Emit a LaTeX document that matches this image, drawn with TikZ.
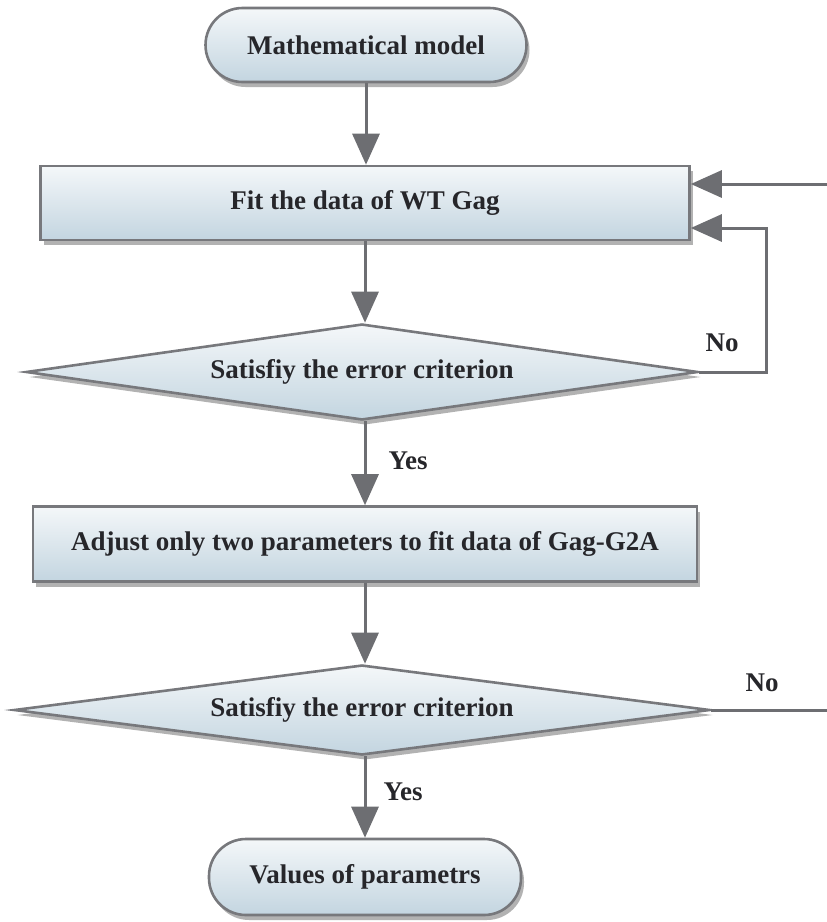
\documentclass[tikz,border=0pt]{standalone}
\usepackage{fontspec}
\setmainfont{Liberation Serif}[BoldFont={Liberation Serif Bold}]
\usetikzlibrary{shapes.geometric,shadows,arrows.meta}
\definecolor{linec}{HTML}{6D6E72}
\definecolor{borderc}{HTML}{77787C}
\definecolor{topc}{HTML}{F4F7F9}
\definecolor{botc}{HTML}{C3D5E0}
\definecolor{txtc}{HTML}{26262A}
\begin{document}
\begin{tikzpicture}[x=1pt,y=-1pt,
  font=\fontsize{27}{32}\selectfont\rmfamily\bfseries, text=txtc,
  fillbox/.style={draw=borderc, line width=2.6pt, top color=topc, bottom color=botc,
    drop shadow={shadow xshift=3pt, shadow yshift=-5pt, opacity=0.5, fill=black!60}, inner sep=0pt},
  termbox/.style={fillbox, rectangle, rounded corners=37pt},
  procbox/.style={fillbox, rectangle},
  decbox/.style={fillbox, diamond},
  conn/.style={draw=linec, line width=3pt, -{Triangle[length=31pt,width=27pt]}},
  plainline/.style={draw=linec, line width=3pt},
  lbl/.style={inner sep=0pt}]
\useasboundingbox (0,0) rectangle (827,922);

\node[termbox, minimum width=321pt, minimum height=74pt] (t1) at (366,45) {Mathematical model};
\node[procbox, minimum width=649pt, minimum height=74pt] (b1) at (365,203) {Fit the data of WT Gag};
\node[decbox, minimum width=672pt, minimum height=96pt] (d1) at (362,372) {};
\node[lbl] (d1t) at (d1.center) {Satisfiy the error criterion};
\node[procbox, minimum width=664pt, minimum height=75pt] (b2) at (365,544) {Adjust only two parameters to fit data of Gag-G2A};
\node[decbox, minimum width=696pt, minimum height=90pt] (d2) at (362,710) {};
\node[lbl] (d2t) at (d2.center) {Satisfiy the error criterion};
\node[termbox, minimum width=312pt, minimum height=76pt] (t2) at (365,877) {Values of parametrs};

\node[lbl] (y1) at (408,461) {Yes};
\node[lbl] (y2) at (403,792) {Yes};
\node[lbl] (n1) at (722,343) {No};
\node[lbl] (n2) at (762,683) {No};

\draw[conn] (t1.south) -- (t1.south |- b1.north);
\draw[conn] (b1.south) -- (b1.south |- d1.north);
\draw[conn] (b1.south |- d1.south) -- (b1.south |- b2.north);
\draw[conn] (b2.south) -- (b2.south |- d2.north);
\draw[conn] (b2.south |- d2.south) -- (b2.south |- t2.north);

\coordinate (e1) at (827,184);
\draw[conn] (e1) -- (b1.east |- e1);
\coordinate (k1) at (766,228);
\draw[conn] (d1.east) -| (k1) -- (b1.east |- k1);
\coordinate (e2) at (827,709);
\draw[plainline] (d2.east) -- (e2 |- d2.east);
\end{tikzpicture}
\end{document}
